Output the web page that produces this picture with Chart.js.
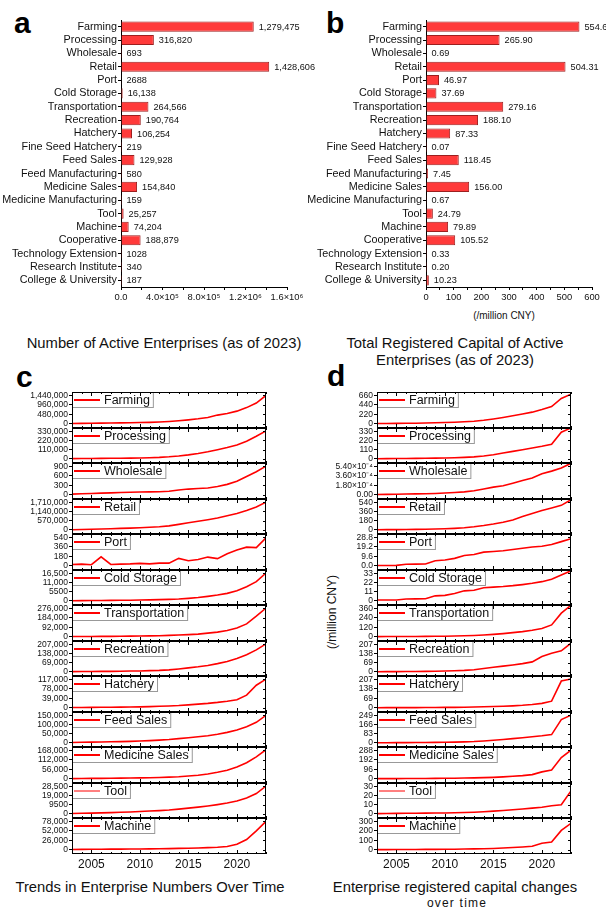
<!DOCTYPE html>
<html>
<head>
<meta charset="utf-8">
<script src="https://cdn.jsdelivr.net/npm/chart.js@4.4.1/dist/chart.umd.min.js"></script>
<style>
  body { margin: 0; width: 606px; height: 911px; position: relative; overflow: hidden; background: #fff; font-family: "Liberation Sans", Arial, sans-serif; color: #111; }
  canvas { position: absolute; }
  .letter { position: absolute; font-weight: bold; font-size: 30px; line-height: 30px; color: #000; }
  .title { position: absolute; width: 320px; font-size: 14.8px; line-height: 17px; text-align: center; white-space: nowrap; }
  .note { position: absolute; white-space: nowrap; text-align: center; }
</style>
</head>
<body>

<div class="letter" style="left:14px; top:8px;">a</div>
<div class="letter" style="left:326px; top:8px;">b</div>
<div class="letter" style="left:16px; top:362px;">c</div>
<div class="letter" style="left:327px; top:361px;">d</div>

<div class="title" style="left:4px; top:335px;">Number of Active Enterprises (as of 2023)</div>
<div class="title" style="left:295px; top:335px;">Total Registered Capital of Active<br>Enterprises (as of 2023)</div>
<div class="title" style="left:-10px; top:879px;">Trends in Enterprise Numbers Over Time</div>
<div class="title" style="left:295px; top:879px;">Enterprise registered capital changes</div>
<div class="note" style="left:397px; top:896px; width:120px; font-size:12px; line-height:14px; letter-spacing:1.2px;">over time</div>
<div class="note" style="left:444px; top:310px; width:120px; font-size:10px; line-height:12px;">(/million CNY)</div>
<div class="note" style="left:272px; top:605px; width:120px; font-size:12px; line-height:14px; transform:rotate(-90deg);">(/million CNY)</div>

<script>
Chart.defaults.font.family = '"Liberation Sans", Arial, sans-serif';
Chart.defaults.color = '#111';

// panels a and b
var sectors = ['Farming', 'Processing', 'Wholesale', 'Retail', 'Port', 'Cold Storage', 'Transportation', 'Recreation',
  'Hatchery', 'Fine Seed Hatchery', 'Feed Sales', 'Feed Manufacturing', 'Medicine Sales', 'Medicine Manufacturing',
  'Tool', 'Machine', 'Cooperative', 'Technology Extension', 'Research Institute', 'College & University'];
var activeCounts = [1279475, 316820, 693, 1428606, 2688, 16138, 264566, 190764, 106254, 219, 129928, 580, 154840, 159,
  25257, 74204, 188879, 1028, 340, 187];
var capitalTotals = [554.65, 265.90, 0.69, 504.31, 46.97, 37.69, 279.16, 188.10, 87.33, 0.07, 118.45, 7.45, 156.00, 0.67,
  24.79, 79.89, 105.52, 0.33, 0.20, 10.23];
var countAxisLabels = ['0.0', '4.0×10⁵', '8.0×10⁵', '1.2×10⁶', '1.6×10⁶'];
var capitalAxisLabels = ['0', '100', '200', '300', '400', '500', '600'];

// panels c and d
var years = [2003, 2004, 2005, 2006, 2007, 2008, 2009, 2010, 2011, 2012, 2013, 2014, 2015, 2016, 2017, 2018, 2019, 2020, 2021, 2022, 2023];
var yearLabels = [2005, 2010, 2015, 2020];
var lineNames = ['Farming', 'Processing', 'Wholesale', 'Retail', 'Port', 'Cold Storage', 'Transportation', 'Recreation',
  'Hatchery', 'Feed Sales', 'Medicine Sales', 'Tool', 'Machine'];

var numFarming = [15000, 20000, 25000, 30000, 35000, 42000, 50000, 60000, 72000, 90000, 115000, 150000, 195000, 250000, 320000, 440000, 520000, 640000, 820000, 1050000, 1440000];
var numProcessing = [3000, 4000, 5000, 6000, 7000, 8000, 9000, 11000, 14000, 18000, 25000, 35000, 48000, 65000, 85000, 110000, 135000, 165000, 210000, 270000, 335000];
var numWholesale = [20, 30, 40, 50, 60, 70, 80, 85, 90, 95, 110, 150, 180, 200, 215, 260, 330, 430, 580, 730, 910];
var numRetail = [10000, 25000, 40000, 55000, 70000, 90000, 110000, 130000, 160000, 195000, 250000, 340000, 440000, 530000, 630000, 740000, 880000, 1020000, 1200000, 1420000, 1720000];
var numPort = [25, 30, 20, 170, 25, 30, 35, 45, 35, 50, 50, 140, 95, 120, 165, 135, 230, 300, 355, 345, 530];
var numCold = [100, 150, 200, 250, 300, 350, 400, 500, 600, 750, 900, 1100, 1500, 2000, 2700, 3500, 4500, 6000, 8500, 11500, 16700];
var numTransport = [2000, 2500, 3000, 3500, 4000, 5000, 6000, 7000, 8500, 10000, 13000, 17000, 21000, 26000, 35000, 45000, 60000, 85000, 125000, 200000, 280000];
var numRecreation = [2000, 2500, 3000, 3500, 4000, 5000, 6000, 7000, 9000, 11000, 15000, 22000, 30000, 38000, 48000, 62000, 78000, 100000, 128000, 165000, 210000];
var numHatchery = [1000, 1200, 1500, 1800, 2200, 2600, 3000, 3600, 4500, 6000, 7500, 9000, 12000, 15000, 18000, 22000, 27000, 33000, 52000, 93000, 118000];
var numFeed = [2000, 3000, 4000, 5000, 6000, 7000, 8000, 10000, 12000, 15000, 18000, 23000, 28000, 33000, 39000, 47000, 57000, 70000, 88000, 112000, 150000];
var numMedicine = [1000, 1500, 2000, 2500, 3000, 3500, 4000, 5000, 6000, 7500, 9500, 12000, 16000, 21000, 28000, 38000, 50000, 70000, 95000, 130000, 172000];
var numTool = [400, 600, 800, 1000, 1300, 1600, 2000, 2400, 2900, 3400, 4000, 4900, 5900, 7000, 8200, 9600, 11200, 13400, 16500, 21000, 28800];
var numMachine = [800, 1000, 1200, 1400, 1600, 1800, 2000, 2200, 2500, 2800, 3200, 3700, 4200, 4900, 5800, 7000, 9000, 15000, 28000, 52000, 78000];

var capFarming = [5, 6, 8, 10, 13, 17, 22, 28, 35, 45, 58, 80, 110, 145, 185, 225, 270, 330, 400, 590, 690];
var capProcessing = [2, 3, 4, 5, 6, 7, 9, 11, 14, 18, 24, 35, 50, 70, 90, 110, 130, 150, 175, 320, 370];
var capWholesale = [0.000005, 0.000008, 0.00001, 0.000013, 0.000016, 0.00002, 0.000025, 0.000032, 0.000042, 0.000055, 0.000075, 0.00011, 0.000145, 0.00017, 0.00022, 0.00027, 0.00032, 0.0004, 0.00045, 0.00051, 0.0006];
var capRetail = [3, 4, 5, 7, 9, 12, 16, 22, 30, 42, 60, 85, 115, 150, 195, 260, 320, 380, 430, 480, 590];
var capPort = [0.3, 0.3, 0.4, 1.5, 1.6, 1.7, 5.0, 5.8, 7.5, 10.5, 11.5, 13.8, 14.5, 15.2, 16.5, 17.8, 19, 19.8, 21.5, 24.5, 27.5];
var capCold = [1.0, 1.0, 1.1, 2.2, 2.4, 2.6, 6.0, 6.6, 8.8, 12.0, 12.8, 15.8, 16.5, 17.2, 18.2, 19.5, 21, 23, 26, 31, 36];
var capTransport = [2, 2.5, 3, 3.5, 4, 5, 6, 7, 9, 12, 16, 22, 30, 40, 52, 65, 82, 105, 150, 300, 400];
var capRecreation = [1, 1.5, 2, 2.5, 3, 4, 5, 6.5, 8.5, 11, 16, 25, 35, 43, 52, 62, 75, 115, 140, 158, 215];
var capHatchery = [0.5, 0.6, 0.8, 1, 1.2, 1.5, 2, 2.5, 3, 4, 5, 7, 9, 11, 14, 18, 24, 32, 48, 195, 210];
var capFeed = [1, 1.5, 2, 2.5, 3, 3.5, 4.5, 5.5, 7, 9, 12, 17, 23, 30, 38, 46, 55, 64, 75, 210, 250];
var capMedicine = [1, 1.2, 1.5, 2, 2.5, 3, 3.5, 4.5, 5.5, 7, 9, 11, 14, 19, 25, 32, 42, 70, 88, 215, 290];
var capTool = [0.3, 0.4, 0.5, 0.6, 0.7, 0.8, 0.9, 1.0, 1.2, 1.5, 1.8, 2.3, 3.0, 3.6, 4.4, 5.3, 6.2, 7.2, 8.8, 10, 25];
var capMachine = [1, 1.5, 2, 2.5, 3, 3.5, 4, 5, 6, 7.5, 9, 11, 14, 18, 23, 29, 37, 68, 82, 205, 280];

var numLines = [numFarming, numProcessing, numWholesale, numRetail, numPort, numCold, numTransport, numRecreation,
  numHatchery, numFeed, numMedicine, numTool, numMachine];
var capLines = [capFarming, capProcessing, capWholesale, capRetail, capPort, capCold, capTransport, capRecreation,
  capHatchery, capFeed, capMedicine, capTool, capMachine];

var numTops = [1440000, 330000, 900, 1710000, 540, 16500, 276000, 207000, 117000, 150000, 168000, 28500, 78000];
var numTickLabels = [
  ['0', '480,000', '960,000', '1,440,000'], ['0', '110,000', '220,000', '330,000'], ['0', '300', '600', '900'],
  ['0', '570,000', '1,140,000', '1,710,000'], ['0', '180', '360', '540'], ['0', '5500', '11,000', '16,500'],
  ['0', '92,000', '184,000', '276,000'], ['0', '69,000', '138,000', '207,000'], ['0', '39,000', '78,000', '117,000'],
  ['0', '50,000', '100,000', '150,000'], ['0', '56,000', '112,000', '168,000'], ['0', '9500', '19,000', '28,500'],
  ['0', '26,000', '52,000', '78,000']];
var capTops = [660, 330, 0.00054, 540, 28.8, 33, 360, 207, 207, 249, 288, 30, 300];
var capTickLabels = [
  ['0', '220', '440', '660'], ['0', '110', '220', '330'], ['0.00', '1.80×10⁻⁴', '3.60×10⁻⁴', '5.40×10⁻⁴'],
  ['0', '180', '360', '540'], ['0.0', '9.6', '19.2', '28.8'], ['0', '11', '22', '33'], ['0', '120', '240', '360'],
  ['0', '69', '138', '207'], ['0', '69', '138', '207'], ['0', '83', '166', '249'], ['0', '96', '192', '288'],
  ['0', '10', '20', '30'], ['0', '100', '200', '300']];

function countText(n) {
  return n >= 10000 ? n.toLocaleString('en-US') : String(n);
}

var barValuePlugin = {
  id: 'barValues',
  afterDatasetsDraw: function (chart, args, opts) {
    var ctx = chart.ctx;
    ctx.save();
    ctx.font = '9.2px "Liberation Sans", Arial, sans-serif';
    ctx.fillStyle = '#111';
    ctx.textBaseline = 'middle';
    chart.getDatasetMeta(0).data.forEach(function (bar, i) {
      ctx.fillText(opts.labels[i], Math.max(bar.x, bar.base) + 5, bar.y + 0.5);
    });
    ctx.restore();
  }
};

var framePlugin = {
  id: 'frame',
  afterDraw: function (chart, args, opts) {
    var ctx = chart.ctx, a = chart.chartArea, xs = chart.scales.x, ys = chart.scales.y;
    ctx.save();
    // legend box
    ctx.font = '12.5px "Liberation Sans", Arial, sans-serif';
    var w = ctx.measureText(opts.name).width;
    ctx.fillStyle = '#fff';
    ctx.fillRect(a.left, a.top, 35 + w, 15);
    ctx.strokeStyle = '#999';
    ctx.lineWidth = 1;
    ctx.strokeRect(a.left + 0.5, a.top + 0.5, 35 + w, 15);
    ctx.strokeStyle = '#ff0000';
    ctx.lineWidth = opts.thin ? 1 : 2;
    ctx.beginPath();
    ctx.moveTo(a.left + 2, a.top + 8);
    ctx.lineTo(a.left + 28, a.top + 8);
    ctx.stroke();
    ctx.fillStyle = '#111';
    ctx.textBaseline = 'middle';
    ctx.fillText(opts.name, a.left + 32, a.top + 8.5);
    // box and inner ticks
    ctx.strokeStyle = '#000';
    ctx.lineWidth = 1;
    ctx.strokeRect(a.left + 0.5, a.top + 0.5, a.right - a.left - 1, a.bottom - a.top - 1);
    ctx.beginPath();
    years.forEach(function (y) {
      var px = Math.round(xs.getPixelForValue(y)) + 0.5, len = y % 5 === 0 ? 4 : 2;
      ctx.moveTo(px, a.bottom);
      ctx.lineTo(px, a.bottom - len);
      ctx.moveTo(px, a.top);
      ctx.lineTo(px, a.top + len);
    });
    ys.ticks.forEach(function (t) {
      var py = Math.round(ys.getPixelForValue(t.value)) + 0.5;
      ctx.moveTo(a.right, py);
      ctx.lineTo(a.right - 3, py);
    });
    ctx.stroke();
    ctx.restore();
  }
};

function makeCanvas(left, top, w, h) {
  var c = document.createElement('canvas');
  c.width = w;
  c.height = h;
  c.style.left = left + 'px';
  c.style.top = top + 'px';
  document.body.appendChild(c);
  return c;
}

function barChart(canvas, values, labels, xMax, xStep, labelStep, axisLabels, yWidth, padRight) {
  new Chart(canvas, {
    type: 'bar',
    data: {
      labels: sectors,
      datasets: [{ data: values, backgroundColor: '#ff3a3a', borderColor: '#9c1f1f', borderWidth: 1,
        barPercentage: 0.76, categoryPercentage: 1 }]
    },
    options: {
      indexAxis: 'y', responsive: false, animation: false, devicePixelRatio: 1,
      layout: { padding: { top: 20, right: padRight, left: 0, bottom: 0 } },
      plugins: { legend: { display: false }, tooltip: { enabled: false }, barValues: { labels: labels } },
      scales: {
        y: {
          grid: { drawOnChartArea: false, tickLength: 3, color: '#000', offset: false },
          border: { color: '#000' },
          ticks: { font: { size: 10.8 }, padding: 1, autoSkip: false, color: '#111' },
          afterFit: function (s) { s.width = yWidth; }
        },
        x: {
          min: 0, max: xMax,
          grid: { drawOnChartArea: false, tickLength: 3, color: '#000' },
          border: { color: '#000' },
          afterBuildTicks: function (s) {
            var t = [];
            for (var k = 0; k * xStep <= xMax + 1e-9; k++) t.push({ value: k * xStep });
            s.ticks = t;
          },
          ticks: {
            font: { size: 9.4 }, padding: 2, maxRotation: 0, autoSkip: false, color: '#111',
            callback: function (v) {
              var k = v / labelStep;
              return Math.abs(k - Math.round(k)) < 1e-6 ? axisLabels[Math.round(k)] : '';
            }
          },
          afterFit: function (s) { s.height = 23; }
        }
      }
    },
    plugins: [barValuePlugin]
  });
}

barChart(makeCanvas(0, 0, 330, 310), activeCounts, activeCounts.map(countText), 1600000, 200000, 400000, countAxisLabels, 121, 43);
barChart(makeCanvas(300, 0, 306, 310), capitalTotals, capitalTotals.map(function (v) { return v.toFixed(2); }),
  600, 50, 100, capitalAxisLabels, 126, 14);

function lineChart(left, width, yWidth, i, name, values, topTick, tickLabels) {
  var top = Math.round(392 + i * 35.5), bottom = Math.round(392 + (i + 1) * 35.5);
  var isLast = i === lineNames.length - 1;
  var padTop = 6, padBottom = isLast ? 0 : 6, xH = isLast ? 26 : 0;
  var canvas = makeCanvas(left, top - padTop, width, bottom - top + padTop + padBottom + xH);
  var pts = years.map(function (y, k) { return { x: y, y: values[k] }; });
  new Chart(canvas, {
    type: 'line',
    data: { datasets: [{ data: pts, borderColor: '#ff0000', borderWidth: 1.6, pointRadius: 0, tension: 0, fill: false }] },
    options: {
      responsive: false, animation: false, devicePixelRatio: 1,
      layout: { padding: { top: padTop, bottom: padBottom, left: 0, right: 4 } },
      plugins: { legend: { display: false }, tooltip: { enabled: false }, frame: { name: name, thin: name === 'Tool' } },
      scales: {
        x: {
          type: 'linear', min: 2003, max: 2023, display: isLast,
          grid: { display: false, drawTicks: false }, border: { display: false },
          afterBuildTicks: function (s) { s.ticks = yearLabels.map(function (v) { return { value: v }; }); },
          ticks: { font: { size: 12 }, padding: 3, maxRotation: 0, autoSkip: false, color: '#111', callback: function (v) { return String(v); } },
          afterFit: function (s) { s.height = xH; }
        },
        y: {
          min: -0.15 * topTick, max: 1.12 * topTick,
          grid: { drawOnChartArea: false, tickLength: 3, color: '#000' }, border: { display: false },
          afterBuildTicks: function (s) { s.ticks = [0, 1, 2, 3].map(function (k) { return { value: k * topTick / 3 }; }); },
          ticks: { font: { size: 8.5, lineHeight: 1 }, padding: 1, autoSkip: false, color: '#111', callback: function (v, k) { return tickLabels[k]; } },
          afterFit: function (s) { s.width = yWidth; }
        }
      }
    },
    plugins: [framePlugin]
  });
}

lineNames.forEach(function (name, i) {
  lineChart(0, 270, 72, i, name, numLines[i], numTops[i], numTickLabels[i]);
  lineChart(300, 275, 77, i, name, capLines[i], capTops[i], capTickLabels[i]);
});
</script>
</body>
</html>
